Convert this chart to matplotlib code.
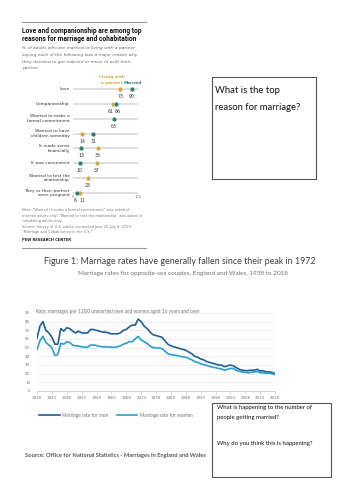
import numpy as np
import matplotlib
matplotlib.use("Agg")
import matplotlib.pyplot as plt
from matplotlib.patches import Rectangle
from matplotlib.lines import Line2D

# ---- data: Pew dot chart ----
reasons = ['Love', 'Companionship', 'Wanted to make a\nformal commitment',
           'Wanted to have\nchildren someday', 'It made sense\nfinancially',
           'It was convenient', 'Wanted to test the\nrelationship',
           'They or their partner\nwere pregnant']
cohabiting = [73, 61, None, 14, 38, 37, 23, 11]
married = [90, 66, 63, 31, 13, 10, None, 6]

# ---- data: ONS marriage rates 1938-2018 ----
years = list(range(1938, 2019))
men_rate = [61, 75, 80, 70, 67, 62, 54, 54, 72, 69, 73, 72, 69, 67, 69, 67, 67, 67,
            71, 71, 70, 69, 68, 68, 67, 66, 66, 66, 67, 70, 71, 74, 76, 76, 83, 80,
            75, 72, 68, 65, 64, 63, 62, 58, 54, 52, 51, 50, 49, 48, 47, 45, 43, 40,
            39, 37, 36, 34, 33, 32, 31, 30, 30, 28, 29, 30, 29, 27, 25, 24, 23.5,
            23.5, 24, 24, 25, 23, 23.5, 22, 22, 21.5, 20]
women_rate = [48, 58, 63, 56, 53, 50, 41, 42, 55, 54, 57, 56, 53, 52, 52, 51, 50.5,
              50.5, 53, 53, 52.5, 51.5, 51, 51, 51, 50.5, 50.5, 51, 52, 54, 55, 57,
              57, 60, 63, 59, 57, 55, 52, 50, 50, 49.5, 49, 46, 43, 42, 41.5, 41, 40,
              39.5, 39, 37.5, 36, 34, 33, 31.5, 30.5, 29.5, 28.5, 27.5, 27, 26, 25.5,
              24, 25, 26, 26, 24, 22.5, 22, 21.5, 21, 21.5, 22, 22.5, 21, 21, 20.5,
              20.5, 20, 19]
year_ticks = list(range(1938, 2019, 5))

W, H = 353, 500
fig = plt.figure(figsize=(W / 100, H / 100), dpi=100)
fig.patch.set_facecolor('white')


def fx(px):
    return px / W


def fy(py):
    return 1 - py / H


def txt(x, y, s, **kw):
    fig.text(fx(x), fy(y), s, **kw)


GOLD = '#d6a83a'
TEAL = '#2b8273'

# ---- Pew panel ----
fig.add_artist(Line2D([fx(22), fx(146)], [fy(22), fy(22)], color='#999999', lw=0.8))
fig.add_artist(Line2D([fx(22), fx(146)], [fy(248), fy(248)], color='#999999', lw=0.8))
txt(22, 31, 'Love and companionship are among top', fontsize=4.75, weight='bold',
    family='Roboto', va='center', color='#111111')
txt(22, 39, 'reasons for marriage and cohabitation', fontsize=4.75, weight='bold',
    family='Roboto', va='center', color='#111111')
sub = ['% of adults who are married or living with a partner',
       'saying each of the following was a major reason why',
       'they decided to get married or move in with their',
       'partner']
for i, s in enumerate(sub):
    txt(22, 48 + i * 6.8, s, fontsize=3.15, style='italic', color='#666666', va='center')

txt(112, 77, 'Living with', fontsize=3.0, color=GOLD, weight='bold', ha='center', va='center')
txt(112, 83, 'a partner', fontsize=3.0, color=GOLD, weight='bold', ha='center', va='center')
txt(124, 83, 'Married', fontsize=3.0, color=TEAL, weight='bold', ha='left', va='center')

ax1 = fig.add_axes([fx(73), fy(198), fx(138) - fx(73), fy(84) - fy(198)])
ax1.set_xlim(0, 100)
ax1.set_ylim(7.335, -0.336)
ax1.axis('off')
for i, lab in enumerate(reasons):
    ax1.plot([0, 100], [i, i], color='#dcdcdc', lw=1.3, zorder=1, solid_capstyle='butt')
    ax1.text(-5, i, lab, ha='right', va='center', fontsize=3.2, color='#333333',
             linespacing=1.2)
    for vals, col in ((cohabiting, GOLD), (married, TEAL)):
        v = vals[i]
        if v is None:
            continue
        ax1.scatter([v], [i], s=12, color=col, edgecolor='white', linewidth=0.3, zorder=3)
    pts = [(v, c) for v, c in ((cohabiting[i], GOLD), (married[i], TEAL)) if v is not None]
    pts.sort()
    for k, (v, c) in enumerate(pts):
        xo = 0
        if len(pts) == 2 and pts[1][0] - pts[0][0] < 8:
            xo = -3 if k == 0 else 3
        ax1.text(v + xo, i + 0.5, str(v), ha='center', va='center', fontsize=3.3,
                 color='#333333')
ax1.text(0, 7.25, '0', ha='center', va='center', fontsize=2.6, color='#777777')
ax1.text(100, 7.25, '100', ha='center', va='center', fontsize=2.6, color='#777777')

notes = ['Note: "Wanted to make a formal commitment" was asked of',
         'married adults only; "Wanted to test the relationship" was asked of',
         'cohabiting adults only.',
         'Source: Survey of U.S. adults conducted June 25-July 8, 2019.',
         '"Marriage and Cohabitation in the U.S."']
for i, s in enumerate(notes):
    txt(22, 210 + i * 5.6, s, fontsize=2.5, color='#777777', va='center')
txt(22, 240, 'PEW RESEARCH CENTER', fontsize=2.6, weight='bold', color='#222222', va='center')

# ---- question box top right ----
fig.add_artist(Rectangle((fx(212), fy(179)), fx(316) - fx(212), fy(77) - fy(179),
                         fill=False, edgecolor='#555555', lw=0.8))
txt(215, 91, 'What is the top', fontsize=6.8, family='Lato', color='#111111', va='center')
txt(215, 108, 'reason for marriage?', fontsize=6.8, family='Lato', color='#111111', va='center')

# ---- Figure 1 ----
txt(180, 262, 'Figure 1: Marriage rates have generally fallen since their peak in 1972',
    fontsize=6.4, family='Lato', color='#404040', ha='center', va='center')
txt(183, 274, 'Marriage rates for opposite-sex couples, England and Wales, 1938 to 2018',
    fontsize=4.6, family='Lato', color='#707070', ha='center', va='center')
txt(36, 311, 'Rate: marriages per 1,000 unmarried men and women aged 16 years and over',
    fontsize=3.45, family='Lato', color='#707070', va='center')

ax2 = fig.add_axes([fx(37), fy(391), fx(275) - fx(37), fy(313) - fy(391)])
ax2.plot(years, men_rate, color='#206095', lw=1.2)
ax2.plot(years, women_rate, color='#27a0cc', lw=1.2)
ax2.set_xlim(1938, 2018)
ax2.set_ylim(0, 90)
ax2.set_yticks(range(0, 91, 10))
ax2.set_xticks(year_ticks)
ax2.grid(axis='y', color='#e6e6e6', lw=0.5)
for s in ('top', 'right', 'left'):
    ax2.spines[s].set_visible(False)
ax2.spines['bottom'].set_color('#c0c0c0')
ax2.spines['bottom'].set_linewidth(0.5)
ax2.tick_params(axis='y', length=0, labelsize=2.8, labelcolor='#707070', pad=5)
ax2.tick_params(axis='x', length=2, width=0.4, color='#c0c0c0', labelsize=2.8,
                labelcolor='#707070', pad=1.5)
ax2.set_axisbelow(True)

fig.add_artist(Line2D([fx(39), fx(60)], [fy(415), fy(415)], color='#206095', lw=1.2))
txt(62, 415, 'Marriage rate for men', fontsize=3.4, family='Lato', color='#707070', va='center')
fig.add_artist(Line2D([fx(117), fx(137)], [fy(415), fy(415)], color='#27a0cc', lw=1.2))
txt(140, 415, 'Marriage rate for women', fontsize=3.4, family='Lato', color='#707070', va='center')

txt(25, 456, 'Source: Office for National Statistics - Marriages in England and Wales',
    fontsize=4.15, family='Lato', weight='bold', color='#595959', va='center')

# ---- question box bottom right ----
fig.add_artist(Rectangle((fx(212), fy(477)), fx(331) - fx(212), fy(403) - fy(477),
                         fill=False, edgecolor='#555555', lw=0.8))
txt(217, 408, 'What is happening to the number of', fontsize=4.3, family='Lato',
    color='#111111', va='center')
txt(217, 417, 'people getting married?', fontsize=4.3, family='Lato', color='#111111', va='center')
txt(217, 444, 'Why do you think this is happening?', fontsize=4.3, family='Lato',
    color='#111111', va='center')

fig.savefig('out.png', dpi=100, facecolor='white')
